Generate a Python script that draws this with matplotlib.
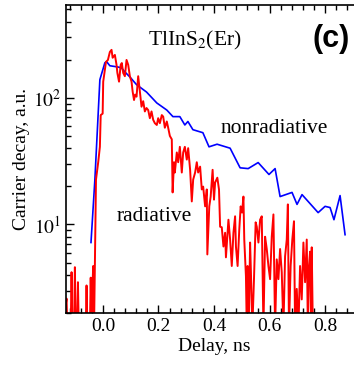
import matplotlib
matplotlib.use("Agg")
import matplotlib.pyplot as plt
from matplotlib.ticker import MultipleLocator, LogLocator, NullFormatter, FixedLocator

plt.rcParams['font.family'] = ['Liberation Serif', 'DejaVu Serif']
plt.rcParams['mathtext.fontset'] = 'stix'

# nonradiative decay (blue)
delay_nr = [-0.043, -0.029, -0.011, 0.007, 0.013, 0.025, 0.054, 0.067, 0.079, 0.097,
            0.121, 0.157, 0.194, 0.230, 0.252, 0.277, 0.295, 0.306, 0.324, 0.360,
            0.382, 0.411, 0.458, 0.494, 0.523, 0.559, 0.598, 0.620, 0.638, 0.681,
            0.699, 0.717, 0.775, 0.800, 0.818, 0.832, 0.854, 0.872]
decay_nr = [7.2, 22.6, 139, 189, 193, 179, 175, 172, 160, 146,
            127, 111, 91, 80, 71, 71, 61, 65, 56, 53,
            41, 43, 40, 28, 27.6, 30.8, 24.8, 27.6, 16.6, 17.9,
            14.4, 17.2, 12.4, 13.9, 13.6, 10.9, 16.9, 8.3]

# radiative decay (red), values below 2 fall off the axis
delay_r = [-0.137, -0.133, -0.131, -0.128, -0.116, -0.113, -0.110, -0.104, -0.101, -0.098,
           -0.093, -0.090, -0.087, -0.062, -0.059, -0.056, -0.047, -0.044, -0.041, -0.039,
           -0.035, -0.032, -0.029, -0.025, -0.017, -0.011, -0.008, -0.001, 0.001, 0.007,
           0.011, 0.018, 0.025, 0.031, 0.035, 0.043, 0.049, 0.052, 0.058, 0.064,
           0.068, 0.073, 0.079, 0.085, 0.091, 0.097, 0.103, 0.107, 0.112, 0.116,
           0.121, 0.127, 0.133, 0.139, 0.145, 0.151, 0.157, 0.163, 0.169, 0.175,
           0.181, 0.187, 0.194, 0.199, 0.205, 0.212, 0.217, 0.223, 0.230, 0.235,
           0.241, 0.248, 0.251, 0.256, 0.259, 0.266, 0.271, 0.277, 0.284, 0.289,
           0.295, 0.302, 0.307, 0.314, 0.320, 0.325, 0.332, 0.338, 0.343, 0.350,
           0.356, 0.361, 0.368, 0.374, 0.376, 0.383, 0.388, 0.395, 0.400, 0.404,
           0.412, 0.418, 0.422, 0.428, 0.434, 0.440, 0.443, 0.452, 0.458, 0.464,
           0.470, 0.476, 0.479, 0.485, 0.491, 0.496, 0.501, 0.506, 0.509, 0.515,
           0.518, 0.521, 0.525, 0.530, 0.533, 0.538, 0.544, 0.550, 0.554, 0.560,
           0.566, 0.572, 0.578, 0.584, 0.590, 0.596, 0.602, 0.608, 0.614, 0.620,
           0.626, 0.632, 0.638, 0.644, 0.650, 0.656, 0.662, 0.666, 0.670, 0.676,
           0.682, 0.688, 0.692, 0.698, 0.704, 0.710, 0.716, 0.722, 0.728, 0.734,
           0.738, 0.742, 0.746, 0.750, 0.752, 0.756]
decay_r = [1.5, 2.4, 2.6, 1.5, 1.5, 4.2, 1.5, 1.5, 4.6, 1.5,
           1.5, 3.5, 1.5, 1.5, 3.3, 1.5, 1.5, 3.8, 1.5, 2.7,
           4.7, 1.5, 5.0, 22.6, 31, 41, 73, 75, 134, 166,
           192, 199, 230, 239, 207, 218, 182, 157, 134, 182,
           188, 157, 148, 199, 182, 148, 134, 112, 96, 106,
           102, 148, 112, 85, 94, 78, 83, 80, 69, 78,
           67, 63, 61, 69, 63, 73, 71, 58, 65, 58,
           50, 47, 17.9, 31, 25.7, 37, 31, 41, 25.7, 37,
           41, 32.5, 40, 27, 15.2, 22.6, 25.7, 31, 25.7, 28.6,
           18.9, 19.9, 13.9, 18.9, 5.8, 13.9, 16.6, 27, 15.7, 21.4,
           23.4, 18.9, 9.6, 9.5, 6.7, 8.6, 5.5, 10.9, 7.6, 4.7,
           8.6, 11.6, 6.7, 4.7, 9.1, 13.9, 12.4, 16.6, 7.6, 3.9,
           1.5, 4.7, 1.5, 7.2, 4.2, 1.5, 3.7, 10.4, 9.6, 7.2,
           10.9, 11.6, 1.5, 8.0, 6.4, 4.7, 3.7, 8.0, 12.0, 1.5,
           5.3, 3.7, 6.4, 4.2, 1.5, 5.6, 7.6, 14.4, 1.5, 4.7,
           7.6, 10.6, 1.5, 3.1, 1.5, 4.7, 2.56, 7.2, 3.5, 7.6,
           1.5, 4.7, 6.1, 1.5, 6.6, 1.5]

fig = plt.figure(figsize=(3.54, 3.65), dpi=100)
ax = fig.add_axes([66/354, 52/365, 296/354, 308/365])

ax.plot(delay_nr, decay_nr, color='#0000ff', lw=1.2)
ax.plot(delay_r, decay_r, color='#ff0000', lw=1.4)

ax.set_yscale('log')
ax.set_xlim(-0.133, 0.933)
ax.set_ylim(2.0, 540)

ax.xaxis.set_major_locator(FixedLocator([0.0, 0.2, 0.4, 0.6, 0.8]))
ax.xaxis.set_minor_locator(MultipleLocator(0.04))
ax.set_xticklabels(['0.0', '0.2', '0.4', '0.6', '0.8'])
ax.yaxis.set_major_locator(FixedLocator([10, 100]))
ax.set_yticklabels(['$10^1$', '$10^2$'])
ax.yaxis.set_minor_locator(LogLocator(base=10, subs=range(2, 10)))
ax.yaxis.set_minor_formatter(NullFormatter())

ax.tick_params(which='both', direction='in', top=True, right=True, labelsize=14, width=1)
ax.tick_params(which='major', length=6)
ax.tick_params(which='minor', length=3.5)
for s in ax.spines.values():
    s.set_linewidth(1.2)

ax.set_xlabel('Delay, ns', fontsize=14, labelpad=2)
ax.set_ylabel('Carrier decay, a.u.', fontsize=14, labelpad=2)

ax.text(0.162, 261, 'TlInS$_2$(Er)', fontsize=15.5)
ax.text(0.422, 53, 'nonradiative', fontsize=15.5)
ax.text(0.050, 10.6, 'radiative', fontsize=15.5)
fig.text(331/354, 1 - 39/365, '(c)', fontsize=22, family='Liberation Sans',
         fontweight='bold', ha='center', va='center')

fig.savefig('out.png', dpi=100)
